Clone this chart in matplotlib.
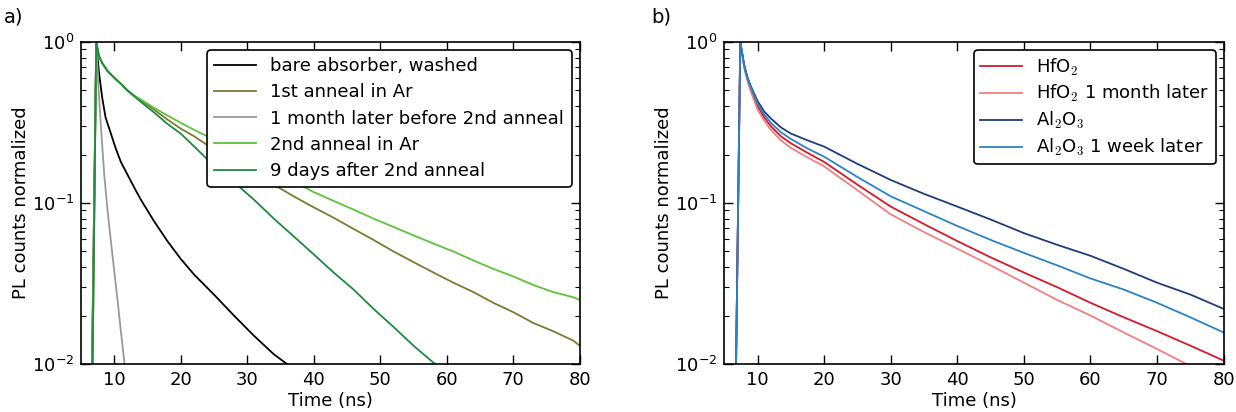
import numpy as np
import matplotlib
matplotlib.use("Agg")
import matplotlib.pyplot as plt

plt.rcParams['font.family'] = 'DejaVu Sans'
plt.rcParams['mathtext.fontset'] = 'cm'
plt.rcParams['font.size'] = 13

# ---- panel a) values (time in ns, normalized counts)
t_bare = [6.5, 7.3, 7.7, 8.2, 8.7, 9.5, 10.2, 11, 12, 13, 14, 16, 18, 20, 22, 25, 28, 31, 34, 37, 40, 45]
y_bare = [0.003, 1.0, 0.65, 0.45, 0.34, 0.27, 0.22, 0.18, 0.15, 0.125, 0.105, 0.077, 0.058, 0.045,
          0.036, 0.027, 0.020, 0.015, 0.0115, 0.0093, 0.0078, 0.006]

t_month = [6.5, 7.3, 7.6, 8.0, 8.5, 9.0, 9.5, 10, 10.5, 11, 11.5, 12]
y_month = [0.003, 1.0, 0.55, 0.30, 0.15, 0.09, 0.058, 0.038, 0.025, 0.016, 0.0105, 0.007]

t_green = [6.6, 7.3, 7.7, 8.2, 9, 10, 11, 12, 13, 14, 16, 18, 20, 22, 25, 28, 31, 34, 37, 40, 43,
           46, 49, 52, 55, 58, 61, 64, 67, 70, 73, 76, 79, 80]
y_anneal1 = [0.003, 1.0, 0.82, 0.74, 0.66, 0.6, 0.55, 0.5, 0.465, 0.435, 0.38, 0.33, 0.29, 0.26,
             0.215, 0.18, 0.155, 0.13, 0.11, 0.094, 0.081, 0.069, 0.059, 0.05, 0.043, 0.037,
             0.032, 0.028, 0.024, 0.021, 0.018, 0.016, 0.014, 0.013]
y_anneal2 = [0.003, 1.0, 0.82, 0.74, 0.66, 0.6, 0.55, 0.5, 0.465, 0.44, 0.39, 0.35, 0.315, 0.285,
             0.248, 0.213, 0.183, 0.158, 0.136, 0.117, 0.103, 0.091, 0.08, 0.071, 0.063, 0.056,
             0.05, 0.044, 0.039, 0.035, 0.031, 0.028, 0.026, 0.025]
t_9days = [6.6, 7.3, 7.7, 8.2, 9, 10, 11, 12, 13, 14, 16, 18, 20, 22, 25, 28, 31, 34, 37, 40, 43,
           46, 49, 52, 55, 58, 61]
y_9days = [0.003, 1.0, 0.82, 0.74, 0.66, 0.6, 0.55, 0.5, 0.46, 0.425, 0.365, 0.31, 0.27, 0.225,
           0.17, 0.135, 0.105, 0.08, 0.062, 0.048, 0.037, 0.029, 0.022, 0.017, 0.013, 0.0102, 0.008]

# ---- panel b)
t_b = [6.6, 7.4, 8.0, 8.5, 9, 10, 11, 12, 13.5, 15, 17.5, 20, 25, 30, 35, 40, 45, 50, 55, 60, 65, 70, 75, 80]
y_hfo2 = [0.003, 1.0, 0.7, 0.58, 0.5, 0.40, 0.34, 0.30, 0.26, 0.235, 0.205, 0.18, 0.13, 0.095,
          0.074, 0.058, 0.046, 0.037, 0.030, 0.024, 0.0195, 0.016, 0.013, 0.0105]
y_hfo2_month = [0.003, 1.0, 0.69, 0.57, 0.49, 0.38, 0.325, 0.285, 0.245, 0.22, 0.192, 0.169,
                0.12, 0.085, 0.066, 0.052, 0.041, 0.032, 0.025, 0.020, 0.0157, 0.0124, 0.0097, 0.0075]
y_al2o3 = [0.003, 1.0, 0.72, 0.6, 0.53, 0.43, 0.37, 0.335, 0.295, 0.27, 0.245, 0.224, 0.175,
           0.139, 0.114, 0.095, 0.079, 0.065, 0.055, 0.047, 0.039, 0.032, 0.027, 0.022]
y_al2o3_week = [0.003, 1.0, 0.71, 0.59, 0.52, 0.415, 0.355, 0.315, 0.275, 0.25, 0.218, 0.194,
                0.145, 0.11, 0.089, 0.072, 0.059, 0.049, 0.041, 0.034, 0.029, 0.024, 0.0195, 0.0157]

fig = plt.figure(figsize=(12.36, 4.12), dpi=100)
ax1 = fig.add_axes([0.0655, 0.1165, 0.4035, 0.7815])
ax2 = fig.add_axes([0.586, 0.1165, 0.404, 0.7815])

ax1.plot(t_bare, y_bare, color='black', lw=1.3, label='bare absorber, washed')
ax1.plot(t_green, y_anneal1, color='#7b7b32', lw=1.3, label='1st anneal in Ar')
ax1.plot(t_month, y_month, color='#999999', lw=1.3, label='1 month later before 2nd anneal')
ax1.plot(t_green, y_anneal2, color='#5ec23c', lw=1.3, label='2nd anneal in Ar')
ax1.plot(t_9days, y_9days, color='#1f8a3f', lw=1.3, label='9 days after 2nd anneal')

ax2.plot(t_b, y_hfo2, color='#d41a2a', lw=1.3, label='HfO$_2$')
ax2.plot(t_b, y_hfo2_month, color='#f08080', lw=1.3, label='HfO$_2$ 1 month later')
ax2.plot(t_b, y_al2o3, color='#1f3d7a', lw=1.3, label='Al$_2$O$_3$')
ax2.plot(t_b, y_al2o3_week, color='#2b83c6', lw=1.3, label='Al$_2$O$_3$ 1 week later')

for ax in (ax1, ax2):
    ax.set_yscale('log')
    ax.set_xlim(5, 80)
    ax.set_ylim(1e-2, 1e0)
    ax.set_xticks([10, 20, 30, 40, 50, 60, 70, 80])
    ax.set_xlabel('Time (ns)', labelpad=2)
    ax.set_ylabel('PL counts normalized', labelpad=1)
    ax.tick_params(which='both', direction='in', top=True, right=True, pad=5)
    ax.tick_params(which='major', length=6.5, width=1)
    ax.tick_params(which='minor', length=3.5, width=0.8)
    for s in ax.spines.values():
        s.set_linewidth(1.2)

leg = ax1.legend(loc='upper right', fancybox=True, framealpha=1, handlelength=2.3,
                 labelspacing=0.45, borderpad=0.4, borderaxespad=0.45)
leg.get_frame().set_edgecolor('black')
leg.get_frame().set_linewidth(1.2)
leg = ax2.legend(loc='upper right', fancybox=True, framealpha=1, handlelength=2.3,
                 labelspacing=0.32, borderpad=0.35, borderaxespad=0.45)
leg.get_frame().set_edgecolor('black')
leg.get_frame().set_linewidth(1.2)

fig.text(0.003, 0.945, 'a)', fontsize=14)
fig.text(0.527, 0.945, 'b)', fontsize=14)

fig.savefig('out.png', dpi=100)
